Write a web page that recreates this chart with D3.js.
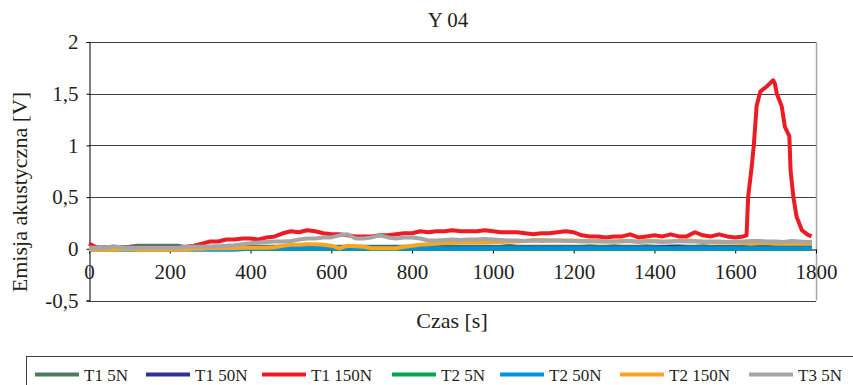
<!DOCTYPE html>
<html>
<head>
<meta charset="utf-8">
<script src="https://cdn.jsdelivr.net/npm/d3@7"></script>
<style>
  body { margin: 0; background: #fff; }
  svg text { font-family: 'Liberation Serif', 'Times New Roman', 'DejaVu Serif', serif; }
</style>
</head>
<body>
<div id="chart"></div>
<script>
// time grid (s) shared by most series
const tGrid = [
  0, 20, 40, 60, 80, 100, 120, 140, 160, 180,
  200, 220, 240, 260, 280, 300, 320, 340, 360, 380,
  400, 420, 440, 460, 480, 500, 520, 540, 560, 580,
  600, 620, 640, 660, 680, 700, 720, 740, 760, 780,
  800, 820, 840, 860, 880, 900, 920, 940, 960, 980,
  1000, 1020, 1040, 1060, 1080, 1100, 1120, 1140, 1160, 1180,
  1200, 1220, 1240, 1260, 1280, 1300, 1320, 1340, 1360, 1380,
  1400, 1420, 1440, 1460, 1480, 1500, 1520, 1540, 1560, 1580,
  1600, 1620, 1640, 1660, 1680, 1700, 1720, 1740, 1760, 1780,
  1790
];

const t1_5N = [
  0.01, 0.01, 0.01, 0.01, 0.015, 0.02, 0.03, 0.03, 0.03, 0.03,
  0.03, 0.03, 0.015, 0.015, 0.015, 0.02, 0.02, 0.02, 0.02, 0.02,
  0.02, 0.02, 0.02, 0.02, 0.02, 0.02, 0.02, 0.02, 0.02, 0.02,
  0.02, 0.02, 0.02, 0.02, 0.02, 0.02, 0.02, 0.02, 0.02, 0.02,
  0.02, 0.02, 0.02, 0.02, 0.02, 0.02, 0.02, 0.02, 0.02, 0.02,
  0.02, 0.02, 0.03, 0.02, 0.02, 0.02, 0.02, 0.02, 0.02, 0.02,
  0.02, 0.02, 0.025, 0.02, 0.02, 0.025, 0.02, 0.02, 0.02, 0.025,
  0.02, 0.02, 0.02, 0.025, 0.02, 0.02, 0.025, 0.02, 0.02, 0.02,
  0.02, 0.02, 0.02, 0.02, 0.02, 0.02, 0.02, 0.02, 0.02, 0.02,
  0.02
];

const t1_50N = [
  0.01, 0.01, 0.01, 0.01, 0.01, 0.01, 0.01, 0.01, 0.01, 0.01,
  0.01, 0.01, 0.01, 0.01, 0.01, 0.01, 0.01, 0.01, 0.01, 0.01,
  0.01, 0.01, 0.01, 0.01, 0.01, 0.01, 0.01, 0.01, 0.01, 0.01,
  0.01, 0.01, 0.01, 0.01, 0.01, 0.01, 0.01, 0.01, 0.01, 0.01,
  0.01, 0.01, 0.01, 0.01, 0.01, 0.01, 0.01, 0.01, 0.01, 0.01,
  0.01, 0.01, 0.01, 0.01, 0.01, 0.01, 0.01, 0.01, 0.01, 0.01,
  0.01, 0.01, 0.01, 0.01, 0.01, 0.01, 0.01, 0.01, 0.01, 0.01,
  0.01, 0.015, 0.02, 0.015, 0.01, 0.01, 0.01, 0.01, 0.01, 0.01,
  0.01, 0.01, 0.01, 0.01, 0.01, 0.01, 0.01, 0.01, 0.01, 0.01,
  0.01
];

const t2_5N = [
  0, 0, 0, 0, 0, 0, 0, 0, 0, 0,
  0, 0, 0, 0, 0, 0, 0, 0, 0, 0,
  0, 0, 0, 0, 0, 0, 0, 0, 0, 0,
  0, 0, 0, 0, 0, 0, 0, 0, 0, 0,
  0, 0, 0, 0, 0, 0, 0, 0, 0, 0,
  0, 0, 0, 0, 0, 0, 0, 0, 0, 0,
  0, 0, 0, 0, 0, 0, 0, 0, 0, 0,
  0, 0, 0, 0, 0, 0, 0, 0, 0, 0,
  0, 0, 0, 0, 0, 0, 0, 0, 0, 0,
  0
];

const t2_50N = [
  -0.01, -0.01, -0.01, -0.01, -0.01, -0.01, -0.01, -0.01, -0.01, -0.01,
  -0.01, -0.01, -0.01, -0.01, -0.01, -0.01, -0.01, -0.01, -0.01, -0.005,
  0, 0, 0.005, 0.005, 0.005, 0.005, 0.005, 0.005, 0.005, 0.005,
  0.005, 0.005, 0.005, 0.005, 0.005, 0.005, 0.005, 0.005, 0.005, 0.005,
  0.005, 0.005, 0.005, 0.005, 0.005, 0.005, 0.005, 0.005, 0.005, 0.005,
  0.005, 0.005, 0.005, 0.005, 0.005, 0.005, 0.005, 0.005, 0.005, 0.005,
  0.005, 0.005, 0.005, 0.005, 0.005, 0.005, 0.005, 0.005, 0.005, 0.005,
  0.005, 0.005, 0.005, 0.005, 0.005, 0.005, 0.005, 0.005, 0.005, 0.005,
  0.005, 0.005, 0.005, 0.005, 0.005, 0.005, 0.005, 0.005, 0.005, 0.005,
  0.005
];

const t2_150N = [
  -0.005, -0.01, -0.01, -0.01, -0.005, 0, -0.01, -0.01, -0.01, -0.01,
  -0.01, -0.01, -0.01, 0, 0, 0.005, 0.005, 0.005, 0.005, 0.01,
  0.01, 0.01, 0.01, 0.015, 0.03, 0.04, 0.04, 0.045, 0.045, 0.04,
  0.03, 0.005, 0.03, 0.025, 0.02, 0.005, 0.005, 0.005, 0.005, 0.02,
  0.03, 0.04, 0.045, 0.05, 0.055, 0.055, 0.06, 0.06, 0.06, 0.06,
  0.065, 0.065, 0.07, 0.07, 0.075, 0.085, 0.085, 0.08, 0.08, 0.08,
  0.08, 0.075, 0.075, 0.07, 0.07, 0.07, 0.075, 0.075, 0.07, 0.075,
  0.075, 0.07, 0.07, 0.075, 0.08, 0.075, 0.07, 0.065, 0.06, 0.06,
  0.06, 0.055, 0.05, 0.055, 0.055, 0.05, 0.05, 0.05, 0.05, 0.05,
  0.05
];

const t3_5N = [
  0.01, 0.01, 0.005, 0.025, 0.015, 0.01, 0.01, 0.01, 0.01, 0.01,
  0.01, 0.01, 0.02, 0.02, 0.02, 0.02, 0.025, 0.03, 0.035, 0.045,
  0.055, 0.06, 0.065, 0.07, 0.07, 0.075, 0.09, 0.1, 0.1, 0.11,
  0.11, 0.13, 0.14, 0.1, 0.1, 0.11, 0.13, 0.11, 0.1, 0.11,
  0.11, 0.1, 0.08, 0.08, 0.085, 0.09, 0.085, 0.09, 0.09, 0.095,
  0.09, 0.085, 0.08, 0.08, 0.075, 0.08, 0.075, 0.08, 0.08, 0.075,
  0.075, 0.07, 0.07, 0.075, 0.07, 0.07, 0.07, 0.075, 0.065, 0.07,
  0.07, 0.065, 0.07, 0.075, 0.07, 0.07, 0.065, 0.07, 0.07, 0.065,
  0.07, 0.07, 0.075, 0.075, 0.07, 0.07, 0.065, 0.075, 0.07, 0.065,
  0.065
];

// T1 150N has its own time axis (denser around the peak)
const t1_150N_t = [
  0, 20, 40, 60, 80, 100, 120, 140, 160, 180,
  200, 220, 240, 260, 280, 300, 320, 340, 360, 380,
  400, 420, 440, 460, 480, 500, 520, 540, 560, 580,
  600, 620, 640, 660, 680, 700, 720, 740, 760, 780,
  800, 820, 840, 860, 880, 900, 920, 940, 960, 980,
  1000, 1020, 1040, 1060, 1080, 1100, 1120, 1140, 1160, 1180,
  1200, 1220, 1240, 1260, 1280, 1300, 1320, 1340, 1360, 1380,
  1400, 1420, 1440, 1460, 1480, 1500, 1520, 1540, 1560, 1580,
  1600, 1620, 1628, 1632, 1641, 1646, 1653, 1662, 1678, 1686,
  1694, 1698, 1703, 1715, 1723, 1734, 1737, 1744, 1752, 1765,
  1778, 1789
];
const t1_150N = [
  0.05, 0.01, 0.01, 0.01, 0.01, 0.01, 0.01, 0.01, 0.01, 0.01,
  0.01, 0.01, 0.02, 0.03, 0.05, 0.07, 0.07, 0.09, 0.09, 0.1,
  0.1, 0.09, 0.11, 0.12, 0.15, 0.17, 0.16, 0.18, 0.17, 0.15,
  0.14, 0.14, 0.13, 0.12, 0.12, 0.12, 0.13, 0.13, 0.14, 0.15,
  0.15, 0.17, 0.16, 0.17, 0.17, 0.18, 0.17, 0.17, 0.17, 0.18,
  0.17, 0.16, 0.16, 0.16, 0.15, 0.14, 0.15, 0.15, 0.16, 0.17,
  0.16, 0.13, 0.12, 0.12, 0.11, 0.12, 0.12, 0.14, 0.11, 0.12,
  0.13, 0.12, 0.14, 0.12, 0.12, 0.16, 0.13, 0.12, 0.14, 0.12,
  0.11, 0.12, 0.13, 0.5, 0.8, 1.0, 1.38, 1.52, 1.57, 1.6,
  1.63, 1.6, 1.5, 1.38, 1.18, 1.09, 0.76, 0.5, 0.31, 0.18,
  0.14, 0.12
];

const xTicks = [0, 200, 400, 600, 800, 1000, 1200, 1400, 1600, 1800];
const yTicks = [-0.5, 0, 0.5, 1, 1.5, 2];

const seriesNames = ['T1 5N', 'T1 50N', 'T1 150N', 'T2 5N', 'T2 50N', 'T2 150N', 'T3 5N'];
const seriesColors = ['#4d7c5c', '#2e3192', '#ed1c24', '#00a651', '#0095da', '#f7a623', '#a6a6a6'];

const series = [
  { name: seriesNames[0], t: tGrid, v: t1_5N },
  { name: seriesNames[1], t: tGrid, v: t1_50N },
  { name: seriesNames[2], t: t1_150N_t, v: t1_150N },
  { name: seriesNames[3], t: tGrid, v: t2_5N },
  { name: seriesNames[4], t: tGrid, v: t2_50N },
  { name: seriesNames[5], t: tGrid, v: t2_150N },
  { name: seriesNames[6], t: tGrid, v: t3_5N },
];

const width = 853, height = 385;
const plot = { left: 89, right: 816, top: 42, bottom: 300.5 };
const serif = "'Liberation Serif', 'Times New Roman', 'DejaVu Serif', serif";
const textColor = '#231f20';

const legendX = [35, 146, 262, 392, 500, 620, 749];

const svg = d3.select('#chart')
  .append('svg')
  .attr('width', width)
  .attr('height', height)
  .attr('font-family', serif);

const x = d3.scaleLinear().domain([0, 1800]).range([plot.left, plot.right]);
const y = d3.scaleLinear().domain([-0.5, 2]).range([plot.bottom, plot.top]);

const fmt = d => String(d).replace('.', ',');

// horizontal grid
svg.append('g')
  .selectAll('line')
  .data(yTicks.filter(d => d !== 0))
  .enter()
  .append('line')
  .attr('x1', plot.left)
  .attr('x2', plot.right)
  .attr('y1', d => Math.round(y(d)) + 0.5)
  .attr('y2', d => Math.round(y(d)) + 0.5)
  .attr('stroke', '#404040')
  .attr('stroke-width', 1);

// right frame of the plot area
svg.append('line')
  .attr('x1', plot.right + 0.5).attr('x2', plot.right + 0.5)
  .attr('y1', plot.top).attr('y2', plot.bottom)
  .attr('stroke', '#a6a6a6')
  .attr('stroke-width', 1.5);

// y axis
const yAxis = svg.append('g')
  .attr('transform', `translate(${plot.left + 0.5},0)`)
  .call(d3.axisLeft(y).tickValues(yTicks).tickSize(3).tickPadding(8).tickFormat(fmt));
yAxis.attr('font-family', serif).attr('font-size', 21);
yAxis.select('.domain').attr('stroke', '#000');
yAxis.selectAll('.tick line').attr('stroke', '#000');
yAxis.selectAll('text').attr('fill', textColor);

// x axis sits on the zero line
const xAxis = svg.append('g')
  .attr('transform', `translate(0,${Math.round(y(0)) + 0.5})`)
  .call(d3.axisBottom(x).tickValues(xTicks).tickSize(4).tickPadding(11)
    .tickSizeOuter(0).tickFormat(d3.format('d')));
xAxis.attr('font-family', serif).attr('font-size', 21);
xAxis.select('.domain').attr('stroke', '#000');
xAxis.selectAll('.tick line').attr('stroke', '#000');
xAxis.selectAll('text').attr('fill', textColor);

// series
const line = d3.line()
  .x(d => x(d[0]))
  .y(d => y(d[1]));

svg.append('g')
  .selectAll('path')
  .data(series)
  .enter()
  .append('path')
  .attr('d', s => line(s.t.map((t, i) => [t, s.v[i]])))
  .attr('fill', 'none')
  .attr('stroke', (s, i) => seriesColors[i])
  .attr('stroke-width', 4)
  .attr('stroke-linejoin', 'round');

// titles
svg.append('text')
  .attr('x', 448)
  .attr('y', 27)
  .attr('text-anchor', 'middle')
  .attr('font-size', 21)
  .attr('fill', textColor)
  .text('Y 04');

svg.append('text')
  .attr('x', 452)
  .attr('y', 328)
  .attr('text-anchor', 'middle')
  .attr('font-size', 22)
  .attr('fill', textColor)
  .text('Czas [s]');

svg.append('text')
  .attr('transform', 'translate(27,192) rotate(-90)')
  .attr('text-anchor', 'middle')
  .attr('font-size', 22)
  .attr('fill', textColor)
  .text('Emisja akustyczna [V]');

// legend
svg.append('rect')
  .attr('x', 26.5)
  .attr('y', 356.5)
  .attr('width', 900)
  .attr('height', 60)
  .attr('fill', 'none')
  .attr('stroke', '#404040')
  .attr('stroke-width', 1);

const legend = svg.append('g')
  .selectAll('g')
  .data(seriesNames)
  .enter()
  .append('g')
  .attr('transform', (d, i) => `translate(${legendX[i]},0)`);

legend.append('line')
  .attr('x1', 0).attr('x2', 44)
  .attr('y1', 374.5).attr('y2', 374.5)
  .attr('stroke', (d, i) => seriesColors[i])
  .attr('stroke-width', 4);

legend.append('text')
  .attr('x', 49)
  .attr('y', 381)
  .attr('font-size', 17)
  .attr('fill', textColor)
  .text(d => d);
</script>
</body>
</html>
